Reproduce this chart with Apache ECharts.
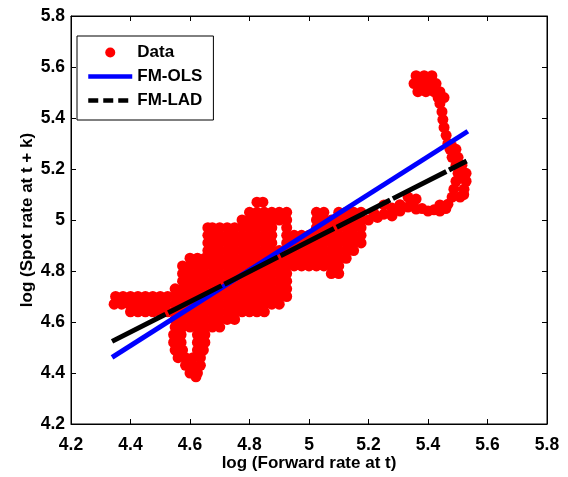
<!DOCTYPE html>
<html><head><meta charset="utf-8">
<script src="https://cdn.jsdelivr.net/npm/echarts@6/dist/echarts.min.js"></script>
<style>html,body{margin:0;padding:0;background:#fff}#c{width:568px;height:477px}</style>
</head><body><div id="c"></div>
<script>
// Axis ranges / ticks
const axisMin = 4.2, axisMax = 5.8, axisStep = 0.2;
const xTitle = 'log (Forward rate at t)';
const yTitle = 'log (Spot rate at t + k)';
const seriesNames = ['Data', 'FM-OLS', 'FM-LAD'];

// Data cloud (y level, x positions)
const rowY = [5.07, 5.03, 5.00, 4.97, 4.94, 4.91, 4.88, 4.85, 4.82, 4.79, 4.76, 4.73, 4.70, 4.67, 4.64, 4.61, 4.58, 4.55, 4.52, 4.49, 4.46, 4.43, 4.40, 4.385];
const rowX = [
  [4.825, 4.845],
  [4.8, 4.825, 4.85, 4.875, 4.9, 4.925, 5.025, 5.05, 5.1, 5.125, 5.15, 5.175],
  [4.775, 4.8, 4.825, 4.85, 4.875, 4.9, 4.925, 5.025, 5.05, 5.075, 5.1, 5.125, 5.15, 5.175, 5.2],
  [4.66, 4.675, 4.7, 4.725, 4.75, 4.775, 4.8, 4.825, 4.85, 4.875, 4.925, 5.025, 5.05, 5.075, 5.1, 5.125, 5.15, 5.175],
  [4.66, 4.675, 4.7, 4.725, 4.75, 4.775, 4.8, 4.825, 4.85, 4.875, 4.925, 4.95, 4.975, 5, 5.025, 5.05, 5.075, 5.1, 5.125, 5.15, 5.175],
  [4.66, 4.675, 4.7, 4.725, 4.75, 4.775, 4.8, 4.825, 4.85, 4.875, 4.925, 4.95, 4.975, 5, 5.025, 5.05, 5.075, 5.1, 5.125, 5.15, 5.175],
  [4.66, 4.675, 4.7, 4.725, 4.75, 4.775, 4.8, 4.825, 4.85, 4.875, 4.9, 4.925, 4.95, 4.975, 5, 5.025, 5.05, 5.075, 5.1, 5.125, 5.15],
  [4.6, 4.625, 4.65, 4.675, 4.7, 4.725, 4.75, 4.775, 4.8, 4.825, 4.85, 4.875, 4.9, 4.925, 4.95, 4.975, 5, 5.025, 5.05, 5.075, 5.1, 5.125],
  [4.575, 4.6, 4.625, 4.65, 4.675, 4.7, 4.725, 4.75, 4.775, 4.8, 4.825, 4.85, 4.875, 4.9, 4.925, 4.95, 4.975, 5, 5.025, 5.05, 5.075, 5.1],
  [4.575, 4.6, 4.625, 4.65, 4.675, 4.7, 4.725, 4.75, 4.775, 4.8, 4.825, 4.85, 4.875, 4.9, 4.925, 5.075, 5.1],
  [4.575, 4.6, 4.625, 4.65, 4.675, 4.7, 4.725, 4.75, 4.775, 4.8, 4.825, 4.85, 4.875, 4.9, 4.925],
  [4.55, 4.575, 4.6, 4.625, 4.65, 4.675, 4.7, 4.725, 4.75, 4.775, 4.8, 4.825, 4.85, 4.875, 4.9, 4.925],
  [4.35, 4.375, 4.4, 4.425, 4.45, 4.475, 4.5, 4.525, 4.55, 4.575, 4.6, 4.625, 4.65, 4.675, 4.7, 4.725, 4.75, 4.775, 4.8, 4.825, 4.85, 4.875, 4.9, 4.925],
  [4.345, 4.37, 4.395, 4.42, 4.445, 4.47, 4.495, 4.52, 4.55, 4.575, 4.6, 4.625, 4.65, 4.675, 4.7, 4.725, 4.75, 4.775, 4.8, 4.825, 4.85, 4.875, 4.9],
  [4.4, 4.425, 4.45, 4.475, 4.5, 4.525, 4.55, 4.575, 4.6, 4.625, 4.65, 4.675, 4.7, 4.725, 4.75, 4.775, 4.8, 4.825, 4.85],
  [4.55, 4.575, 4.6, 4.625, 4.65, 4.675, 4.7, 4.725, 4.75],
  [4.55, 4.575, 4.6, 4.625, 4.65, 4.675, 4.7],
  [4.545, 4.57, 4.625, 4.65],
  [4.545, 4.57, 4.625, 4.65],
  [4.55, 4.575, 4.625, 4.645],
  [4.56, 4.585, 4.61, 4.635],
  [4.585, 4.61, 4.635],
  [4.6, 4.625],
  [4.62]
];
// Right-hand excursion (strip, arm and top blob)
const trailX = [5.218, 5.23, 5.252, 5.252, 5.279, 5.279, 5.306, 5.306, 5.333, 5.333, 5.345, 5.36, 5.36, 5.38, 5.40, 5.42, 5.44, 5.44, 5.46, 5.467,
  5.481, 5.508, 5.52, 5.487, 5.521, 5.494, 5.528, 5.501, 5.528, 5.51, 5.494, 5.514, 5.481, 5.501, 5.474, 5.494,
  5.467, 5.48, 5.461, 5.454, 5.45, 5.447, 5.44, 5.434, 5.454,
  5.366, 5.393, 5.42, 5.44, 5.353, 5.38, 5.407, 5.427, 5.36, 5.387, 5.413];
const trailY = [5.027, 5.01, 5.059, 5.023, 5.047, 5.016, 5.035, 5.06, 5.090, 5.051, 5.07, 5.082, 5.043, 5.045, 5.035, 5.04, 5.059, 5.035, 5.045, 5.062,
  5.09, 5.09, 5.10, 5.121, 5.121, 5.152, 5.152, 5.183, 5.183, 5.165, 5.215, 5.215, 5.246, 5.246, 5.277, 5.277,
  5.30, 5.29, 5.332, 5.363, 5.394, 5.425, 5.457, 5.48, 5.48,
  5.503, 5.503, 5.503, 5.503, 5.535, 5.535, 5.535, 5.535, 5.566, 5.566, 5.566];

// Fitted lines (end points)
const olsX = [4.338, 5.534], olsY = [4.461, 5.348];
const ladX = [4.338, 5.530], ladY = [4.524, 5.231];

const scatterData = [];
rowY.forEach((y, i) => rowX[i].forEach(x => scatterData.push([x, y])));
trailX.forEach((x, i) => scatterData.push([x, trailY[i]]));
const olsData = olsX.map((x, i) => [x, olsY[i]]);
const ladData = ladX.map((x, i) => [x, ladY[i]]);

const FONT = 'Liberation Sans, Arial, sans-serif';
const baseAxis = {
  min: axisMin, max: axisMax, interval: axisStep,
  splitLine: {show: false},
  axisLine: {show: true, onZero: false, lineStyle: {color: '#000', width: 1}},
  axisTick: {show: true, inside: true, length: 5, lineStyle: {color: '#000'}},
};
const tickFont = {fontSize: 17.5, fontWeight: 'bold', color: '#000', fontFamily: FONT};
const titleFont = {fontSize: 17, fontWeight: 'bold', color: '#000', fontFamily: FONT};
const chart = echarts.init(document.getElementById('c'), null, {renderer: 'canvas'});
chart.setOption({
  animation: false,
  backgroundColor: '#fff',
  grid: {left: 71, right: 21, top: 16, bottom: 51, show: true, borderColor: '#000', borderWidth: 1, backgroundColor: '#fff'},
  xAxis: [
    Object.assign({}, baseAxis, {type: 'value', position: 'bottom', name: xTitle, nameLocation: 'middle', nameGap: 31,
      nameMoveOverlap: false, nameTextStyle: titleFont,
      axisLabel: Object.assign({margin: 12}, tickFont)}),
    Object.assign({}, baseAxis, {type: 'value', position: 'top', axisLabel: {show: false}})
  ],
  yAxis: [
    Object.assign({}, baseAxis, {type: 'value', position: 'left', name: yTitle, nameLocation: 'middle', nameGap: 35,
      nameMoveOverlap: false, nameTextStyle: titleFont,
      axisLabel: Object.assign({margin: 6}, tickFont)}),
    Object.assign({}, baseAxis, {type: 'value', position: 'right', axisLabel: {show: false}})
  ],
  legend: {
    orient: 'vertical', left: 77, top: 36,
    padding: [8, 11, 11, 9],
    itemWidth: 44, itemHeight: 10, itemGap: 7,
    borderColor: '#000', borderWidth: 1, borderRadius: 0, backgroundColor: '#fff',
    selectedMode: false,
    textStyle: {fontSize: 17, fontWeight: 'bold', color: '#000', fontFamily: FONT},
    data: [
      {name: seriesNames[0]},
      {name: seriesNames[1], itemStyle: {opacity: 0}, lineStyle: {width: 4.5}},
      {name: seriesNames[2], itemStyle: {opacity: 0}, lineStyle: {width: 4.5, type: [10, 5]}}
    ]
  },
  series: [
    {name: seriesNames[0], type: 'scatter', data: scatterData, symbol: 'circle', symbolSize: 11,
      itemStyle: {color: '#ff0000', opacity: 1}, xAxisIndex: 0, yAxisIndex: 0},
    {name: seriesNames[1], type: 'line', data: olsData, symbol: 'none', showSymbol: false, lineStyle: {color: '#0000ff', width: 5},
      itemStyle: {color: '#0000ff'}, xAxisIndex: 0, yAxisIndex: 0},
    {name: seriesNames[2], type: 'line', data: ladData, symbol: 'none', showSymbol: false, lineStyle: {color: '#000000', width: 5, type: [60, 3]},
      itemStyle: {color: '#000000'}, xAxisIndex: 0, yAxisIndex: 0}
  ]
});
</script></body></html>
